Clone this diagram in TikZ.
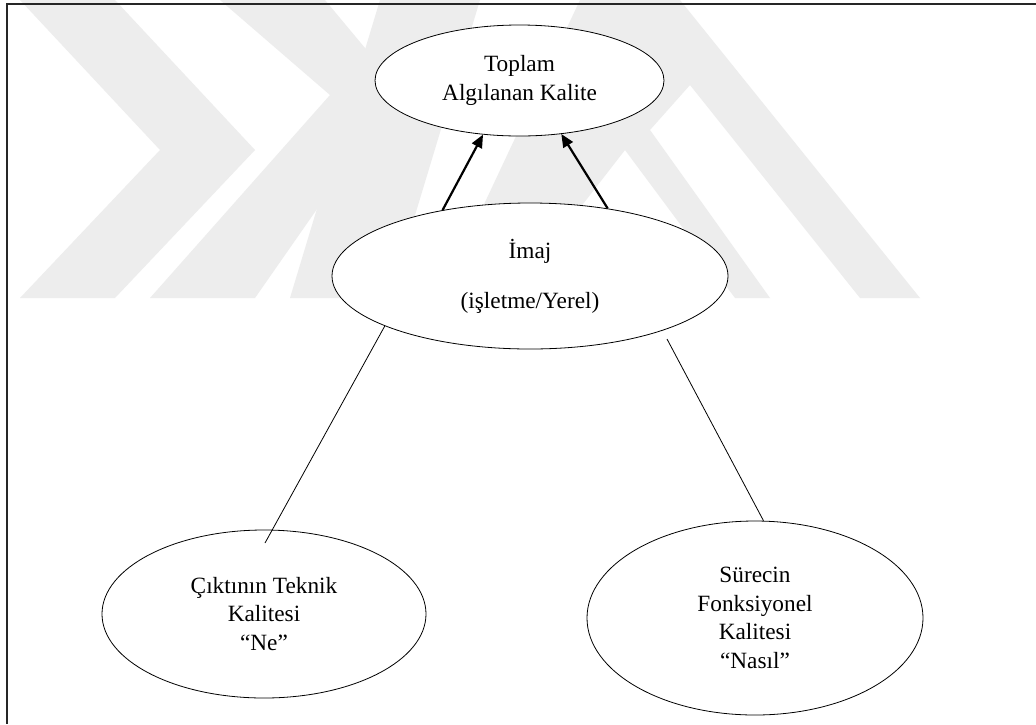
\documentclass[tikz,border=0pt]{standalone}
\usepackage{fontspec}
\setmainfont{Liberation Serif}
\usetikzlibrary{arrows.meta,shapes.geometric}
\begin{document}
\begin{tikzpicture}[x=1pt,y=-1pt,
  bubble/.style={draw=black,line width=0.8pt,fill=white,ellipse,inner sep=0pt,
    align=center,font=\fontsize{23.3}{28.5}\selectfont},
  arr/.style={line width=2.2pt,-{Triangle[length=13pt,width=11pt]}},
  link/.style={line width=0.8pt},
  wm/.style={fill=black!7,draw=none}]
\useasboundingbox (0,0) rectangle (1036,724);
\fill[white] (0,0) rectangle (1036,724);
% watermark
\fill[wm] (20,0) -- (115,0) -- (255,150) -- (115,298) -- (20,298) -- (160,150) -- cycle;
\fill[wm] (220,0) -- (325,0) -- (400,90) -- (255,298) -- (150,298) -- (330,95) -- cycle;
\fill[wm] (380,0) -- (480,0) -- (390,298) -- (290,298) -- cycle;
\fill[wm] (580,0) -- (680,0) -- (920,298) -- (860,298) -- (690,85) -- (650,130) -- (770,298) -- (735,298) -- (625,150) -- (510,298) -- (440,298) -- cycle;
% frame
\draw[line width=1.5pt,black!85] (1036,4) -- (7,4) -- (7,724);
% nodes
\node[bubble,minimum width=289pt,minimum height=111pt] (top) at (519.5,80.5) {Toplam\\Algılanan Kalite};
\node[bubble,minimum width=396pt,minimum height=146pt,font=\fontsize{23.3}{50}\selectfont] (mid) at (530,276) {İmaj\\(işletme/Yerel)};
\node[bubble,minimum width=324pt,minimum height=168pt] (bl) at (264,614) {Çıktının Teknik\\Kalitesi\\“Ne”};
\node[bubble,minimum width=336pt,minimum height=194pt] (br) at (755,618) {Sürecin\\Fonksiyonel\\Kalitesi\\“Nasıl”};
% connectors
\draw[arr] (mid.143) -- (top.236);
\draw[arr] (mid.41) -- (top.308);
\coordinate (blend) at (265,543);
\coordinate (rstart) at (667,339);
\draw[link] (mid.199) -- (blend);
\draw[link] (rstart) -- (br.85);
\end{tikzpicture}
\end{document}
